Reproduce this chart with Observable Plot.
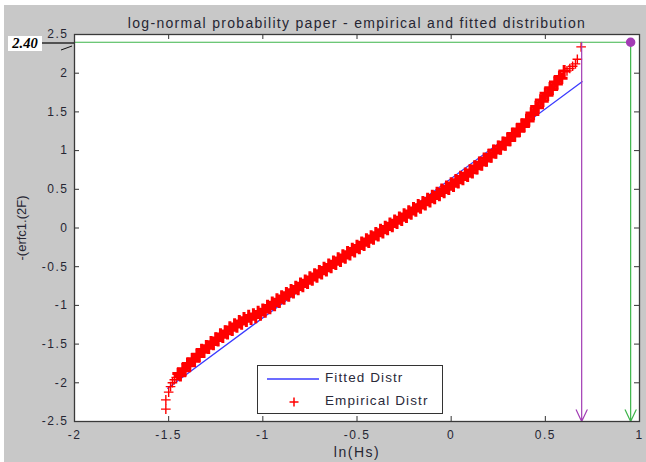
<!DOCTYPE html>
<html>
<head>
<meta charset="utf-8">
<script src="https://cdn.jsdelivr.net/npm/d3@7"></script>
<script src="https://cdn.jsdelivr.net/npm/@observablehq/plot@0.6"></script>
<style>
  html, body { margin: 0; padding: 0; background: #fff; }
  #wrap { position: relative; width: 646px; height: 462px; overflow: hidden; background: #fff; }
  #panel { position: absolute; left: 4px; top: 5px; width: 642px; height: 457px; background: #c8c8c8; }
  #plotbg { position: absolute; left: 74px; top: 34px; width: 565px; height: 387px; background: #fff; }
  #chart { position: absolute; left: 0; top: 0; }
  #legend { position: absolute; left: 257px; top: 365px; width: 186px; height: 49px; background: #fff;
            border: 1px solid #333; box-sizing: border-box;
            font-family: "Liberation Sans", Arial, sans-serif; font-size: 13.5px; letter-spacing: 1.1px; color: #2a2a3a; }
  #legend .row { position: absolute; left: 67px; }
  #refbox { position: absolute; left: 8px; top: 36px; width: 34px; height: 15px; background: #fff;
            font-family: "Liberation Serif", "Times New Roman", serif; font-weight: bold; font-style: italic;
            font-size: 14.5px; line-height: 15px; text-align: center; color: #000; }
  #overlay { position: absolute; left: 0; top: 0; pointer-events: none; }
</style>
</head>
<body>
<div id="wrap">
  <div id="panel"></div>
  <div id="plotbg"></div>
  <div id="chart"></div>
  <div id="legend">
    <svg width="186" height="49" style="position:absolute;left:0;top:0">
      <line x1="9" y1="13" x2="61" y2="13" stroke="#3b3bff" stroke-width="1.3"></line>
      <path d="M31.5,36 h9 M36,31.5 v9" stroke="#ff0000" stroke-width="1.5"></path>
    </svg>
    <div class="row" id="leg1" style="top:4px"></div>
    <div class="row" id="leg2" style="top:27px"></div>
  </div>
  <div id="refbox"></div>
  <svg id="overlay" width="646" height="462">
    <line x1="42" y1="43" x2="74" y2="43" stroke="#111" stroke-width="1.3"></line>
    <line x1="61" y1="50" x2="72" y2="46" stroke="#111" stroke-width="1"></line>
  </svg>
</div>
<script>
// ---- data ----
const title = "log-normal probability paper - empirical and fitted distribution";
const xLabel = "ln(Hs)";
const yLabel = "-(erfc1.(2F)";
const legendLabels = ["Fitted Distr", "Empirical Distr"];
const refLabel = "2.40";
const refLevel = 2.40;

const xTicks = [-2, -1.5, -1, -0.5, 0, 0.5, 1];
const yTicks = [-2.5, -2, -1.5, -1, -0.5, 0, 0.5, 1, 1.5, 2, 2.5];

// empirical distribution (red +): dense central band
const empX = [
  -1.4500, -1.4375, -1.4250, -1.4125, -1.4000, -1.3875, -1.3750, -1.3625, -1.3500, -1.3375,
  -1.3250, -1.3125, -1.3000, -1.2875, -1.2750, -1.2625, -1.2500, -1.2375, -1.2250, -1.2125,
  -1.2000, -1.1875, -1.1750, -1.1625, -1.1500, -1.1375, -1.1250, -1.1125, -1.1000, -1.0875,
  -1.0750, -1.0625, -1.0500, -1.0375, -1.0250, -1.0125, -1.0000, -0.9875, -0.9750, -0.9625,
  -0.9500, -0.9375, -0.9250, -0.9125, -0.9000, -0.8875, -0.8750, -0.8625, -0.8500, -0.8375,
  -0.8250, -0.8125, -0.8000, -0.7875, -0.7750, -0.7625, -0.7500, -0.7375, -0.7250, -0.7125,
  -0.7000, -0.6875, -0.6750, -0.6625, -0.6500, -0.6375, -0.6250, -0.6125, -0.6000, -0.5875,
  -0.5750, -0.5625, -0.5500, -0.5375, -0.5250, -0.5125, -0.5000, -0.4875, -0.4750, -0.4625,
  -0.4500, -0.4375, -0.4250, -0.4125, -0.4000, -0.3875, -0.3750, -0.3625, -0.3500, -0.3375,
  -0.3250, -0.3125, -0.3000, -0.2875, -0.2750, -0.2625, -0.2500, -0.2375, -0.2250, -0.2125,
  -0.2000, -0.1875, -0.1750, -0.1625, -0.1500, -0.1375, -0.1250, -0.1125, -0.1000, -0.0875,
  -0.0750, -0.0625, -0.0500, -0.0375, -0.0250, -0.0125, 0.0000, 0.0125, 0.0250, 0.0375,
  0.0500, 0.0625, 0.0750, 0.0875, 0.1000, 0.1125, 0.1250, 0.1375, 0.1500, 0.1625,
  0.1750, 0.1875, 0.2000, 0.2125, 0.2250, 0.2375, 0.2500, 0.2625, 0.2750, 0.2875,
  0.3000, 0.3125, 0.3250, 0.3375, 0.3500, 0.3625, 0.3750, 0.3875, 0.4000, 0.4125,
  0.4250, 0.4375, 0.4500, 0.4625, 0.4750, 0.4875, 0.5000, 0.5125, 0.5250, 0.5375,
  0.5500, 0.5625, 0.5750, 0.5875, 0.6000
];
const empY = [
  -1.880, -1.910, -1.820, -1.845, -1.750, -1.780, -1.690, -1.720, -1.630, -1.660,
  -1.570, -1.605, -1.520, -1.555, -1.470, -1.505, -1.420, -1.455, -1.370, -1.410,
  -1.330, -1.365, -1.280, -1.320, -1.240, -1.280, -1.200, -1.240, -1.160, -1.205,
  -1.130, -1.180, -1.110, -1.155, -1.080, -1.125, -1.050, -1.085, -1.000, -1.040,
  -0.960, -1.000, -0.919, -0.959, -0.878, -0.918, -0.838, -0.877, -0.797, -0.836,
  -0.756, -0.795, -0.715, -0.755, -0.674, -0.714, -0.633, -0.673, -0.593, -0.632,
  -0.552, -0.591, -0.511, -0.551, -0.470, -0.510, -0.429, -0.469, -0.388, -0.428,
  -0.348, -0.387, -0.307, -0.346, -0.266, -0.306, -0.225, -0.265, -0.184, -0.224,
  -0.143, -0.183, -0.103, -0.142, -0.062, -0.101, -0.021, -0.061, 0.020, -0.020,
  0.060, 0.020, 0.100, 0.060, 0.140, 0.100, 0.180, 0.140, 0.220, 0.180,
  0.260, 0.220, 0.300, 0.260, 0.340, 0.300, 0.380, 0.340, 0.420, 0.380,
  0.460, 0.420, 0.500, 0.460, 0.540, 0.500, 0.580, 0.541, 0.623, 0.584,
  0.665, 0.626, 0.708, 0.669, 0.750, 0.715, 0.800, 0.765, 0.850, 0.815,
  0.900, 0.865, 0.950, 0.916, 1.003, 0.969, 1.055, 1.021, 1.108, 1.074,
  1.160, 1.130, 1.220, 1.190, 1.280, 1.250, 1.340, 1.310, 1.400, 1.383,
  1.485, 1.468, 1.570, 1.553, 1.655, 1.638, 1.740, 1.716, 1.813, 1.789,
  1.885, 1.861, 1.958, 1.934, 2.030
];
// empirical distribution: sparse tails (individual + marks)
const tailX = [-1.515, -1.515, -1.500, -1.490, -1.480, -1.470, -1.460,
               0.615, 0.630, 0.645, 0.660, 0.670, 0.690];
const tailY = [-2.340, -2.220, -2.120, -2.050, -2.000, -1.960, -1.930,
               2.030, 2.060, 2.090, 2.120, 2.180, 2.340];

// fitted distribution (blue line)
const fitX = [-1.505, 0.695];
const fitY = [-2.07, 1.89];

// reading arrows (vertical drops) and marker
const arrowX = [0.693, 0.953];
const arrowColors = ["#a23cb4", "#3db54a"];
const markerX = [0.953];
const markerY = [2.40];

// ---- build ----
const emp = empX.map((x, i) => ({x, y: empY[i]}));
const tail = tailX.map((x, i) => ({x, y: tailY[i]}));
const fit = fitX.map((x, i) => ({x, y: fitY[i]}));
const arrows = arrowX.map((x, i) => ({x, color: arrowColors[i]}));
const [x0, x1] = [xTicks[0], xTicks[xTicks.length - 1]];
const [y0, y1] = [yTicks[0], yTicks[yTicks.length - 1]];
const tx = 5 * (x1 - x0) / 565;   // 5px inward tick length in x units
const ty = 5 * (y1 - y0) / 387;   // 5px inward tick length in y units

const chart = Plot.plot({
  width: 646,
  height: 462,
  marginLeft: 74,
  marginRight: 7,
  marginTop: 34,
  marginBottom: 41,
  style: {background: "transparent", fontFamily: "'Liberation Sans', Arial, sans-serif",
          fontSize: "12px", color: "#262633", overflow: "visible"},
  x: {domain: [x0, x1]},
  y: {domain: [y0, y1]},
  marks: [
    Plot.line(fit, {x: "x", y: "y", stroke: "#3b3bff", strokeWidth: 1.3}),
    Plot.dot(emp, {x: "x", y: "y", symbol: "plus", r: 3.8, stroke: "#ff0000", strokeWidth: 3}),
    Plot.dot(tail, {x: "x", y: "y", symbol: "plus", r: 3.2, stroke: "#ff0000", strokeWidth: 1.4}),
    Plot.ruleY([refLevel], {x1: x0, x2: markerX[0], stroke: "#3db54a", strokeWidth: 1.2}),
    Plot.arrow(arrows, {x1: "x", y1: refLevel, x2: "x", y2: y0, stroke: "color",
                        strokeWidth: 1.2, headLength: 16, headAngle: 50}),
    Plot.dot(markerX.map((x, i) => ({x, y: markerY[i]})), {x: "x", y: "y", r: 4, fill: "#a23cb4", stroke: "#a23cb4"}),
    // inward ticks on all four sides
    Plot.ruleX(xTicks, {x: d => d, y1: y0, y2: y0 + ty, stroke: "#333"}),
    Plot.ruleX(xTicks, {x: d => d, y1: y1, y2: y1 - ty, stroke: "#333"}),
    Plot.ruleY(yTicks, {y: d => d, x1: x0, x2: x0 + tx, stroke: "#333"}),
    Plot.ruleY(yTicks, {y: d => d, x1: x1, x2: x1 - tx, stroke: "#333"}),
    Plot.frame({stroke: "#3a3a3a", strokeWidth: 1.3}),
    Plot.axisX({ticks: xTicks, tickSize: 0, tickPadding: 9, tickFormat: d => String(d),
                label: xLabel, labelAnchor: "center", labelArrow: "none", labelOffset: 35}),
    Plot.axisY({ticks: yTicks, tickSize: 0, tickPadding: 6, tickFormat: d => String(d),
                label: yLabel, labelAnchor: "center", labelArrow: "none", labelOffset: 58}),
    Plot.text([title], {frameAnchor: "top", dy: -16, fontSize: 14, fill: "#262633"})
  ]
});
const svg = d3.select(chart);
svg.selectAll('g[aria-label="x-axis tick label"] text, g[aria-label="y-axis tick label"] text')
   .attr("letter-spacing", "1.5px");
svg.selectAll('g[aria-label="x-axis label"] text').attr("font-size", 14).attr("letter-spacing", "1.5px");
svg.selectAll('g[aria-label="y-axis label"] text').attr("font-size", 13);
svg.selectAll('g[aria-label="text"] text').attr("letter-spacing", "1.3px");

document.getElementById("chart").appendChild(chart);
document.getElementById("leg1").textContent = legendLabels[0];
document.getElementById("leg2").textContent = legendLabels[1];
document.getElementById("refbox").textContent = refLabel;
</script>
</body>
</html>
